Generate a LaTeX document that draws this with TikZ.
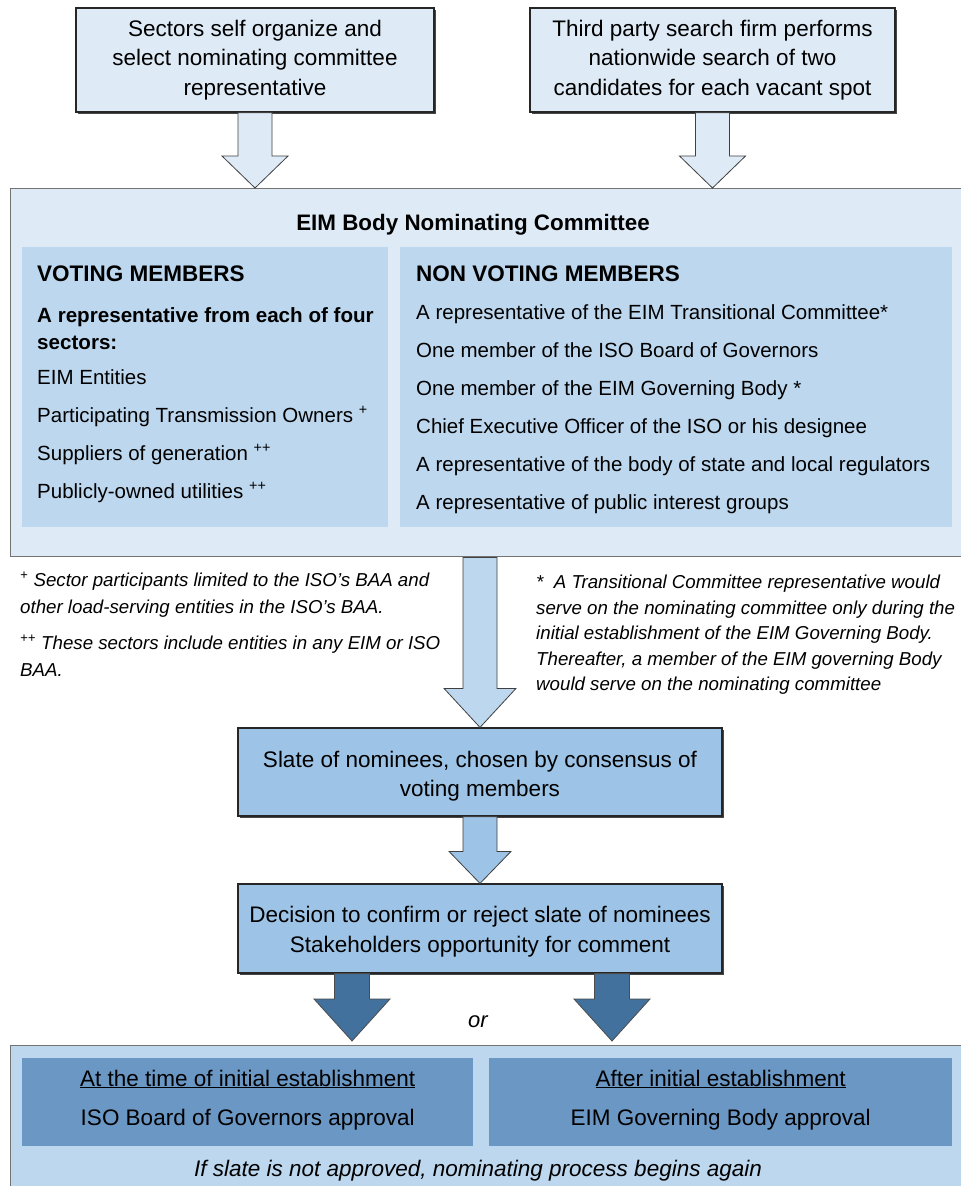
\documentclass[tikz,border=0pt]{standalone}
\usepackage{fontspec}
\setmainfont{Liberation Sans}
\usetikzlibrary{calc,shadows}
\definecolor{lightfill}{HTML}{DEEBF7}
\definecolor{midfill}{HTML}{BDD7EE}
\definecolor{slatefill}{HTML}{9DC3E6}
\definecolor{darkarrow}{HTML}{41719C}
\definecolor{bpanel}{HTML}{6A97C4}
\newcommand{\fatarrow}[6]{%
  \draw[#1] let \p1=(#2), \p2=(#3) in
    (\x1-#4,\y1) -- (\x1+#4,\y1) -- (\x1+#4,\y2+#6) -- (\x1+#5,\y2+#6)
    -- (\x1,\y2) -- (\x1-#5,\y2+#6) -- (\x1-#4,\y2+#6) -- cycle;}
\tikzset{
  shadowbox/.style={draw=black!85, line width=1.2pt,
    drop shadow={shadow xshift=1.5pt, shadow yshift=-1.5pt, opacity=0.9, fill=black!80},
    align=center, inner sep=0pt, font=\fontsize{22.5}{29.5}\selectfont},
  topbox/.style={shadowbox, fill=lightfill, minimum height=104pt},
  slatebox/.style={shadowbox, fill=slatefill, minimum width=484pt, minimum height=88pt},
  boxtext/.style={align=center, inner sep=0pt, font=\fontsize{22.5}{29.5}\selectfont},
  container/.style={draw=black!55, line width=1.4pt, anchor=north west, inner sep=0pt},
  panel/.style={fill=#1, anchor=north west, inner sep=0pt},
  item/.style={anchor=base west, inner sep=0pt, font=\fontsize{20.5}{24}\selectfont},
  head/.style={anchor=base west, inner sep=0pt, font=\fontsize{22.5}{26}\selectfont\bfseries},
  subhead/.style={anchor=base west, inner sep=0pt, font=\fontsize{20.6}{24}\selectfont\bfseries},
  foot/.style={anchor=north west, inner sep=0pt, align=left, font=\fontsize{18.7}{#1}\selectfont\itshape},
  btext/.style={inner sep=0pt, anchor=base, font=\fontsize{22.5}{26}\selectfont},
  lightarrow/.style={fill=lightfill, draw=black!75, line width=0.8pt},
  midarrow/.style={fill=midfill, draw=black!75, line width=0.8pt},
  slatearrow/.style={fill=slatefill, draw=black!75, line width=0.8pt},
  deeparrow/.style={fill=darkarrow, draw=black!70, line width=0.8pt},
}
\begin{document}
\begin{tikzpicture}[x=1pt,y=-1pt]
\useasboundingbox (0,0) rectangle (961,1186);
\fill[white] (0,0) rectangle (961,1186);

% top boxes
\node[topbox, minimum width=358pt] (top1) at (255,60)
  {Sectors self organize and\\select nominating committee\\representative};
\node[topbox, minimum width=365pt] (top2) at (712.5,60)
  {Third party search firm performs\\nationwide search of two\\candidates for each vacant spot};

% committee container
\node[container, fill=lightfill, minimum width=975pt, minimum height=368pt] (comm) at (10,188) {};
\node[inner sep=0pt, anchor=base, font=\fontsize{22.4}{26}\selectfont\bfseries] (title) at (473,230)
  {EIM Body Nominating Committee};
\node[panel=midfill, minimum width=366pt, minimum height=280pt] (vpanel) at (22,247) {};
\node[panel=midfill, minimum width=552pt, minimum height=280pt] (npanel) at (400,247) {};

\node[head] (vh) at (37,281) {VOTING MEMBERS};
\node[subhead] (vs1) at (37,322) {A representative from each of four};
\node[subhead] (vs2) at (37,349) {sectors:};
\node[item] (v1) at (37,384) {EIM Entities};
\node[item] (v2) at (37,422) {Participating Transmission Owners \textsuperscript{+}};
\node[item] (v3) at (37,460) {Suppliers of generation \textsuperscript{++}};
\node[item] (v4) at (37,498) {Publicly-owned utilities \textsuperscript{++}};

\node[head] (nh) at (416,281) {NON VOTING MEMBERS};
\node[item] (n1) at (416,319) {A representative of the EIM Transitional Committee*};
\node[item] (n2) at (416,357) {One member of the ISO Board of Governors};
\node[item] (n3) at (416,395) {One member of the EIM Governing Body *};
\node[item] (n4) at (416,433) {Chief Executive Officer of the ISO or his designee};
\node[item] (n5) at (416,471) {A representative of the body of state and local regulators};
\node[item] (n6) at (416,509) {A representative of public interest groups};

% arrows from top boxes
\coordinate (t1end) at (top1.south |- comm.north);
\coordinate (t2end) at (top2.south |- comm.north);
\fatarrow{lightarrow}{top1.south}{t1end}{17pt}{33pt}{32pt}
\fatarrow{lightarrow}{top2.south}{t2end}{17pt}{33pt}{32pt}

% footnotes
\node[foot=27] (fnA) at (20,572)
  {\textsuperscript{+} Sector participants limited to the ISO’s BAA and\\other load-serving entities in the ISO’s BAA.};
\node[foot=27] (fnB) at (20,635)
  {\textsuperscript{++} These sectors include entities in any EIM or ISO\\BAA.};
\node[foot=25.5] (fnC) at (536,575)
  {*\ \ A Transitional Committee representative would\\serve on the nominating committee only during the\\initial establishment of the EIM Governing Body.\\Thereafter, a member of the EIM governing Body\\would serve on the nominating committee};

% slate and decision
\node[slatebox] (slate) at (480,772) {};
\node[boxtext] (slatetxt) at ($(slate.center)+(0,4)$) {Slate of nominees, chosen by consensus of\\voting members};
\node[slatebox, minimum height=89pt] (dec) at (480,928.5) {};
\node[boxtext] (dectxt) at ($(dec.center)+(0,3)$) {Decision to confirm or reject slate of nominees\\Stakeholders opportunity for comment};

\coordinate (mstart) at (slate.north |- comm.south);
\fatarrow{midarrow}{mstart}{slate.north}{17pt}{36pt}{39pt}
\fatarrow{slatearrow}{slate.south}{dec.north}{17pt}{31pt}{32pt}

% bottom container
\node[container, fill=midfill, minimum width=975pt, minimum height=160pt] (bot) at (10,1045) {};
\node[panel=bpanel, minimum width=451pt, minimum height=88pt] (bl) at (22,1058) {};
\node[panel=bpanel, minimum width=463pt, minimum height=88pt] (br) at (489,1058) {};

\coordinate (d1s) at ($(dec.south)+(-128,0)$);
\coordinate (d2s) at ($(dec.south)+(132,0)$);
\coordinate (d1e) at ($(d1s |- bot.north)+(0,-4)$);
\coordinate (d2e) at ($(d2s |- bot.north)+(0,-4)$);
\fatarrow{deeparrow}{d1s}{d1e}{17.5pt}{38pt}{42pt}
\fatarrow{deeparrow}{d2s}{d2e}{17.5pt}{38pt}{42pt}
\node[btext, font=\fontsize{22}{26}\selectfont\itshape] (or) at (478,1027) {or};

\node[btext] (bl1) at (bl.north |- 0,1086) {\underline{At the time of initial establishment}};
\node[btext] (bl2) at (bl.north |- 0,1125) {ISO Board of Governors approval};
\node[btext] (br1) at (br.north |- 0,1086) {\underline{After initial establishment}};
\node[btext] (br2) at (br.north |- 0,1125) {EIM Governing Body approval};
\node[btext, font=\fontsize{22.5}{26}\selectfont\itshape] (again) at (478,1176)
  {If slate is not approved, nominating process begins again};
\end{tikzpicture}
\end{document}
